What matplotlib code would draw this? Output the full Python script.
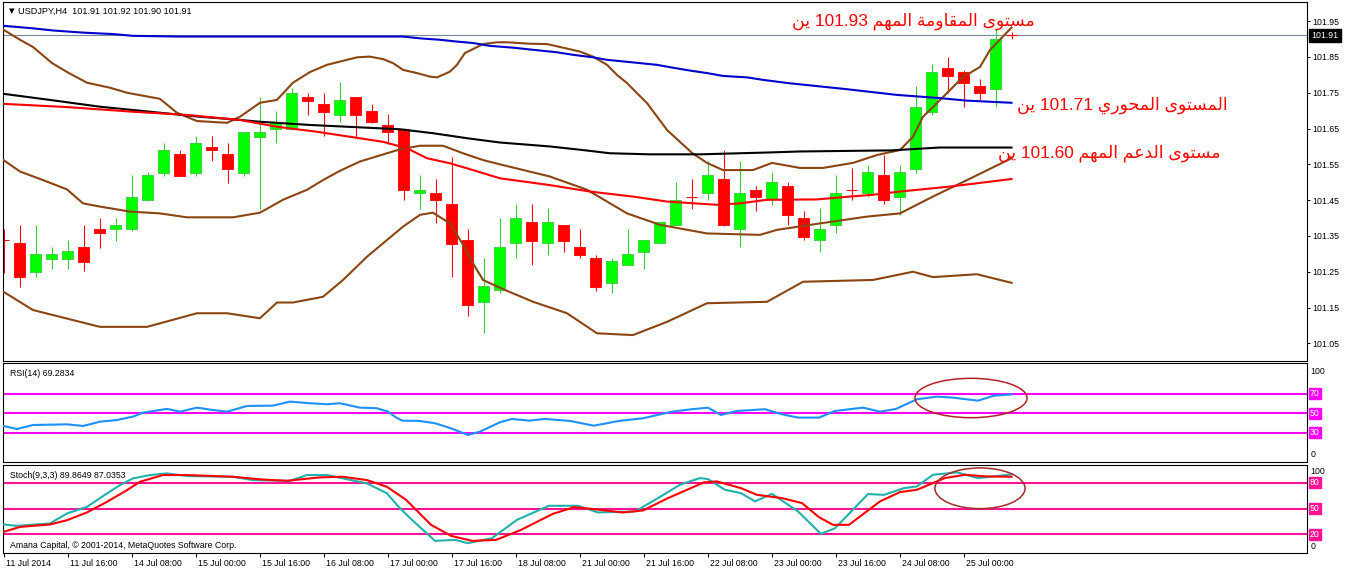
import matplotlib
matplotlib.use('Agg')
import matplotlib.pyplot as plt
from matplotlib.patches import Rectangle, Ellipse
from matplotlib.transforms import blended_transform_factory, ScaledTranslation

# ---------------- data ----------------
symbol_header = "USDJPY,H4  101.91 101.92 101.90 101.91"

opens = [101.339, 101.330, 101.248, 101.286, 101.286, 101.319, 101.369, 101.369, 101.369, 101.449,
         101.527, 101.579, 101.527, 101.599, 101.579, 101.527, 101.627, 101.648, 101.648, 101.739,
         101.719, 101.689, 101.738, 101.699, 101.660, 101.648, 101.469, 101.469, 101.439, 101.339,
         101.166, 101.199, 101.330, 101.389, 101.330, 101.380, 101.319, 101.288, 101.218, 101.268,
         101.306, 101.330, 101.380, 101.458, 101.469, 101.508, 101.369, 101.478, 101.452, 101.490,
         101.400, 101.339, 101.380, 101.478, 101.469, 101.519, 101.458, 101.536, 101.697, 101.819,
         101.808, 101.769, 101.760, 101.910]
highs = [101.369, 101.381, 101.381, 101.320, 101.339, 101.381, 101.401, 101.401, 101.520, 101.529,
         101.611, 101.590, 101.629, 101.629, 101.611, 101.640, 101.739, 101.699, 101.763, 101.750,
         101.749, 101.781, 101.738, 101.719, 101.691, 101.652, 101.520, 101.508, 101.570, 101.369,
         101.288, 101.400, 101.439, 101.439, 101.428, 101.380, 101.369, 101.298, 101.288, 101.369,
         101.339, 101.390, 101.501, 101.508, 101.559, 101.590, 101.559, 101.490, 101.529, 101.501,
         101.419, 101.428, 101.519, 101.539, 101.547, 101.575, 101.547, 101.769, 101.831, 101.849,
         101.814, 101.788, 101.928, 101.920]
lows = [101.247, 101.208, 101.236, 101.259, 101.259, 101.252, 101.317, 101.337, 101.365, 101.448,
        101.518, 101.518, 101.518, 101.558, 101.499, 101.518, 101.426, 101.609, 101.645, 101.688,
        101.629, 101.667, 101.627, 101.665, 101.607, 101.449, 101.426, 101.387, 101.236, 101.126,
        101.078, 101.190, 101.287, 101.268, 101.297, 101.306, 101.287, 101.197, 101.190, 101.268,
        101.259, 101.330, 101.380, 101.426, 101.449, 101.378, 101.318, 101.419, 101.437, 101.380,
        101.339, 101.306, 101.358, 101.450, 101.458, 101.439, 101.408, 101.525, 101.688, 101.749,
        101.710, 101.730, 101.710, 101.900]
closes = [101.339, 101.236, 101.300, 101.300, 101.308, 101.278, 101.357, 101.380, 101.458, 101.519,
          101.590, 101.518, 101.609, 101.589, 101.537, 101.640, 101.640, 101.667, 101.750, 101.728,
          101.697, 101.730, 101.689, 101.667, 101.639, 101.477, 101.478, 101.449, 101.328, 101.158,
          101.210, 101.320, 101.400, 101.337, 101.389, 101.337, 101.298, 101.208, 101.279, 101.300,
          101.339, 101.389, 101.451, 101.458, 101.519, 101.380, 101.469, 101.458, 101.501, 101.408,
          101.348, 101.369, 101.469, 101.478, 101.529, 101.450, 101.529, 101.711, 101.809, 101.797,
          101.778, 101.749, 101.900, 101.910]
last_price = 101.91

# moving averages (bar position, price)
blue_x = [0, 1.84, 3.09, 4.97, 6.84, 8.09, 11.03, 24.97, 26.03, 27.28, 28.34, 29.34, 30.4, 31.84,
          33.1, 34.6, 35.6, 36.84, 37.72, 39.3, 40.84, 41.84, 42.9, 43.97, 44.97, 46.47, 47.47,
          49.03, 52.7, 55.84, 58.53, 60.22, 63]
blue_y = [101.937, 101.930, 101.924, 101.918, 101.914, 101.909, 101.907, 101.907, 101.902, 101.898,
          101.893, 101.889, 101.881, 101.876, 101.870, 101.863, 101.856, 101.849, 101.842, 101.835,
          101.828, 101.820, 101.812, 101.805, 101.797, 101.793, 101.786, 101.777, 101.760, 101.744,
          101.735, 101.728, 101.722]

black_x = [0, 2.9, 6.03, 9.16, 12.28, 14.3, 16.03, 19.16, 24.78, 26.84, 28.97, 31.03, 34.15, 36.2,
           37.9, 40.4, 43.53, 47.7, 49.8, 55.5, 58.5, 63]
black_y = [101.747, 101.730, 101.711, 101.697, 101.683, 101.676, 101.669, 101.660, 101.648, 101.637,
           101.623, 101.611, 101.600, 101.590, 101.581, 101.578, 101.578, 101.583, 101.586, 101.589,
           101.597, 101.597]

red_x = [0, 3.97, 8.09, 11.47, 14.78, 17.09, 19.6, 21.66, 23.72, 25.22, 26.47, 27.9, 29.34, 31.03,
         34.15, 36.66, 39.34, 41.47, 44.6, 46.03, 47.72, 50.84, 52.9, 54.34, 56.03, 59.16, 63]
red_y = [101.719, 101.710, 101.697, 101.688, 101.674, 101.655, 101.641, 101.627, 101.613, 101.595,
         101.567, 101.553, 101.534, 101.511, 101.492, 101.474, 101.460, 101.446, 101.437, 101.441,
         101.451, 101.452, 101.460, 101.465, 101.474, 101.488, 101.509]

# Bollinger bands (bar position, price)
bb_up_x = [0, 1.03, 1.84, 3.03, 3.97, 5.22, 6.66, 7.72, 9.78, 10.84, 12.09, 13.97, 14.78, 16.03,
           17.09, 18.09, 19.16, 20.22, 21.47, 22.1, 22.9, 23.72, 24.34, 24.97, 25.84, 26.66, 27.1,
           27.9, 28.34, 28.84, 29.34, 29.97, 30.84, 31.47, 32.9, 33.97, 34.97, 36.03, 36.84, 37.72,
           38.34, 38.97, 39.59, 40.22, 41.47, 43.03, 43.97, 44.97, 46.84, 48.03, 49.78, 51.22, 53.09,
           54.59, 56.03, 56.84, 57.47, 58.72, 59.97, 61.03, 61.66, 63]
bb_up_y = [101.926, 101.898, 101.878, 101.833, 101.808, 101.778, 101.764, 101.750, 101.733, 101.694,
           101.671, 101.666, 101.683, 101.722, 101.730, 101.778, 101.808, 101.828, 101.842, 101.849,
           101.851, 101.844, 101.833, 101.814, 101.805, 101.795, 101.793, 101.809, 101.828, 101.861,
           101.872, 101.886, 101.891, 101.891, 101.887, 101.886, 101.876, 101.865, 101.851, 101.828,
           101.800, 101.777, 101.749, 101.721, 101.646, 101.582, 101.554, 101.534, 101.534, 101.554,
           101.540, 101.540, 101.554, 101.576, 101.590, 101.627, 101.683, 101.738, 101.794, 101.822,
           101.870, 101.932]

bb_mid_x = [0, 1.03, 2.47, 3.97, 4.97, 6.03, 7.91, 9.78, 11.47, 14.34, 16.03, 17.47, 18.97, 19.97,
            21.03, 22.28, 23.97, 24.78, 26.03, 27.47, 28.72, 29.97, 31.03, 34.15, 36.47, 38.97,
            41.03, 43.97, 47.28, 48.34, 51.03, 53.97, 56.03, 58.09, 60.22, 63]
bb_mid_y = [101.562, 101.530, 101.506, 101.480, 101.441, 101.432, 101.418, 101.413, 101.402, 101.402,
            101.415, 101.451, 101.479, 101.506, 101.532, 101.558, 101.581, 101.592, 101.602, 101.602,
            101.581, 101.562, 101.550, 101.516, 101.479, 101.413, 101.381, 101.357, 101.353, 101.367,
            101.385, 101.404, 101.413, 101.460, 101.506, 101.567]

bb_low_x = [0, 1.84, 6.03, 8.97, 12.09, 13.97, 16.03, 17.09, 18.09, 19.97, 21.22, 22.72, 24.97,
            26.03, 26.84, 27.9, 28.66, 29.34, 29.97, 31.03, 33.1, 35.22, 37.09, 39.34, 41.47, 43.97,
            47.72, 49.97, 54.34, 56.84, 58.09, 60.84, 63]
bb_low_y = [101.194, 101.143, 101.096, 101.096, 101.134, 101.134, 101.120, 101.164, 101.164, 101.180,
            101.227, 101.292, 101.376, 101.409, 101.415, 101.385, 101.330, 101.274, 101.227, 101.205,
            101.166, 101.134, 101.078, 101.073, 101.110, 101.162, 101.166, 101.222, 101.227, 101.250,
            101.235, 101.243, 101.219]

# RSI(14)
rsi_x = [0, 0.84, 1.84, 3.97, 4.97, 6.03, 7.09, 8.09, 8.72, 9.78, 10.22, 11.03, 12.09, 13.09, 13.97,
         15.22, 16.84, 17.91, 19.16, 20.22, 21.03, 22.28, 23.34, 24.03, 24.5, 24.91, 25.97, 26.97,
         27.97, 29.03, 29.78, 31.03, 31.78, 32.84, 33.84, 35.4, 36.9, 38.47, 39.97, 41.78, 43.03,
         44.03, 44.84, 45.84, 47.59, 48.66, 49.66, 50.97, 51.97, 53.72, 54.78, 55.78, 57.09, 58.34,
         59.34, 60.9, 61.91, 63]
rsi_v = [36.9, 33.8, 37.9, 38.6, 36.9, 41.3, 43.0, 46.5, 50.6, 53.3, 54.4, 51.6, 55.7, 53.3, 51.6,
         57.4, 57.8, 61.9, 60.2, 59.2, 60.2, 55.7, 55.1, 51.6, 46.0, 42.4, 42.1, 39.7, 34.5, 27.7,
         31.1, 40.7, 44.1, 42.4, 44.1, 42.1, 37.2, 42.1, 44.8, 51.6, 54.1, 55.7, 48.2, 52.3, 54.1,
         48.9, 45.5, 45.5, 52.3, 55.7, 51.6, 54.4, 64.3, 67.0, 66.0, 62.9, 68.0, 69.28]
rsi_levels = [70, 50, 30]

# Stochastic(9,3,3)
stk_x = [0, 0.84, 2.9, 3.97, 5.22, 6.47, 7.28, 8.09, 9.16, 10.22, 11.47, 14.34, 15.59, 17.91, 18.97,
         20.22, 21.22, 22.72, 23.97, 24.7, 25.41, 26.97, 28.22, 29.03, 30.53, 32.09, 34.09, 35.91,
         37.16, 39.47, 40.72, 42.28, 43.53, 44.03, 45.09, 46.09, 46.97, 48.03, 49.66, 51.09, 51.97,
         54.03, 55.03, 56.28, 57.09, 58.09, 59.59, 60.9, 61.91, 63]
stk_v = [31.6, 30.0, 32.8, 44.4, 52.1, 67.7, 77.3, 85.1, 89.0, 90.9, 87.8, 87.0, 83.1, 82.3, 89.0,
         89.0, 85.1, 79.3, 67.7, 52.0, 39.0, 12.6, 13.7, 9.9, 15.7, 37.0, 53.3, 53.3, 45.6, 46.7,
         60.2, 77.7, 85.5, 84.3, 71.9, 68.0, 58.4, 67.2, 46.7, 20.7, 27.3, 66.9, 66.0, 73.8, 75.8,
         89.3, 92.1, 85.5, 87.4, 89.86]
std_x = [0, 1.03, 2.9, 3.97, 5.22, 6.47, 7.72, 8.53, 9.97, 11.47, 14.34, 16.03, 17.72, 19.78, 21.22,
         22.72, 23.97, 25.16, 26.72, 27.97, 29.28, 30.78, 32.34, 34.34, 35.66, 36.9, 38.72, 39.97,
         41.53, 43.78, 44.59, 46.09, 47.09, 48.66, 49.91, 50.97, 51.84, 52.84, 54.78, 56.03, 57.09,
         58.84, 60.09, 61.41, 63]
std_v = [23.0, 28.8, 31.6, 36.6, 45.6, 57.9, 71.5, 81.2, 89.0, 89.0, 87.0, 84.0, 82.3, 86.3, 87.0,
         83.1, 75.3, 60.2, 31.2, 18.4, 12.6, 13.7, 25.3, 44.0, 51.7, 49.4, 45.6, 47.9, 62.2, 80.5,
         81.6, 73.8, 66.0, 62.2, 56.4, 40.1, 31.2, 31.2, 58.4, 69.2, 71.9, 85.5, 89.3, 87.4, 87.04]
stoch_levels = [80, 50, 20]

# time axis
time_tick_bars = [0, 4, 8, 12, 16, 20, 24, 28, 32, 36, 40, 44, 48, 52, 56, 60]
time_tick_labels = ["11 Jul 2014", "11 Jul 16:00", "14 Jul 08:00", "15 Jul 00:00", "15 Jul 16:00",
                    "16 Jul 08:00", "17 Jul 00:00", "17 Jul 16:00", "18 Jul 08:00", "21 Jul 00:00",
                    "21 Jul 16:00", "22 Jul 08:00", "23 Jul 00:00", "23 Jul 16:00", "24 Jul 08:00",
                    "25 Jul 00:00"]
price_ticks = [101.05, 101.15, 101.25, 101.35, 101.45, 101.55, 101.65, 101.75, 101.85, 101.95]

# annotations (logical Arabic text)
note_resist = "مستوى المقاومة المهم 101.93 ين"
note_pivot = "المستوى المحوري 101.71 ين"
note_support = "مستوى الدعم المهم 101.60 ين"

# ---------------- Arabic shaping (presentation forms + RTL order) ----------------
AR_FORMS = {
    'ا': ('\uFE8D', '\uFE8E', None, None),
    'ل': ('\uFEDD', '\uFEDE', '\uFEDF', '\uFEE0'),
    'م': ('\uFEE1', '\uFEE2', '\uFEE3', '\uFEE4'),
    'س': ('\uFEB1', '\uFEB2', '\uFEB3', '\uFEB4'),
    'ت': ('\uFE95', '\uFE96', '\uFE97', '\uFE98'),
    'و': ('\uFEED', '\uFEEE', None, None),
    'ى': ('\uFEEF', '\uFEF0', None, None),
    'ق': ('\uFED5', '\uFED6', '\uFED7', '\uFED8'),
    'ة': ('\uFE93', '\uFE94', None, None),
    'ه': ('\uFEE9', '\uFEEA', '\uFEEB', '\uFEEC'),
    'ح': ('\uFEA1', '\uFEA2', '\uFEA3', '\uFEA4'),
    'ر': ('\uFEAD', '\uFEAE', None, None),
    'ي': ('\uFEF1', '\uFEF2', '\uFEF3', '\uFEF4'),
    'د': ('\uFEA9', '\uFEAA', None, None),
    'ع': ('\uFEC9', '\uFECA', '\uFECB', '\uFECC'),
    'ن': ('\uFEE5', '\uFEE6', '\uFEE7', '\uFEE8'),
}


def shape_word(w):
    out = []
    n = len(w)
    for i, ch in enumerate(w):
        f = AR_FORMS[ch]
        pj = i > 0 and AR_FORMS[w[i - 1]][2] is not None
        nj = i < n - 1 and f[2] is not None
        if pj and nj:
            g = f[3]
        elif pj:
            g = f[1]
        elif nj:
            g = f[2]
        else:
            g = f[0]
        out.append(g)
    return ''.join(reversed(out))


def visual(text):
    toks = text.split(' ')
    vis = [shape_word(t) if t[0] in AR_FORMS else t for t in toks]
    return ' '.join(reversed(vis))


# ---------------- figure ----------------
W, H = 1346, 571
fig = plt.figure(figsize=(W / 100, H / 100), dpi=100)
fig.patch.set_facecolor('white')
SMALL = ['Liberation Sans', 'DejaVu Sans']
FS = 6.3


def rect(l, t, r, b):
    return [l / W, 1 - b / H, (r - l) / W, (b - t) / H]


ax1 = fig.add_axes(rect(2.7, 2.2, 1306.7, 360.5))
ax2 = fig.add_axes(rect(2.7, 363.3, 1306.7, 461.7))
ax3 = fig.add_axes(rect(2.7, 464.7, 1306.7, 553.0))
XL = (-0.05, 81.45)
for ax in (ax1, ax2, ax3):
    ax.set_xlim(*XL)
    ax.set_facecolor('white')
    for s in ax.spines.values():
        s.set_color('black')
        s.set_linewidth(0.8)
    ax.tick_params(axis='x', bottom=False, labelbottom=False)

# ---- main panel ----
ax1.set_ylim(101.002, 102.003)
ax1.axhline(last_price, color='#778899', lw=0.8, zorder=1)

BULL_FILL, BULL_EDGE = '#00FF00', '#32CD32'
BEAR = '#FF0000'
hw = 0.34
for i, (o, h, l, c) in enumerate(zip(opens, highs, lows, closes)):
    bull = c > o
    wc = BULL_EDGE if bull else BEAR
    ax1.vlines(i, l, h, color=wc, lw=0.8, zorder=2)
    if o == c:
        ax1.hlines(o, i - hw, i + hw, color=wc, lw=0.8, zorder=2)
    else:
        ax1.add_patch(Rectangle((i - hw, min(o, c)), 2 * hw, abs(c - o),
                                facecolor=BULL_FILL if bull else BEAR,
                                edgecolor=wc, lw=0.6, zorder=3))

LW = 1.5
ax1.plot(bb_up_x, bb_up_y, color='#8B4513', lw=LW, zorder=4)
ax1.plot(bb_mid_x, bb_mid_y, color='#8B4513', lw=LW, zorder=4)
ax1.plot(bb_low_x, bb_low_y, color='#8B4513', lw=LW, zorder=4)
ax1.plot(black_x, black_y, color='black', lw=LW, zorder=5)
ax1.plot(red_x, red_y, color='#FF0000', lw=LW, zorder=5)
ax1.plot(blue_x, blue_y, color='#0000CD', lw=LW, zorder=5)

ax1.yaxis.tick_right()
ax1.set_yticks(price_ticks)
ax1.set_yticklabels([f"{p:.2f}" for p in price_ticks])
ax1.tick_params(axis='y', direction='out', length=2.2, width=0.7, pad=1.8, labelsize=FS)
for t in ax1.get_yticklabels():
    t.set_fontfamily(SMALL)

tr1 = blended_transform_factory(ax1.transAxes, ax1.transData)
ax1.text(1.0 + 4.5 / 1304, last_price, f"{last_price:.2f}", transform=tr1, fontsize=FS,
         family=SMALL, color='white', va='center', ha='left',
         bbox=dict(boxstyle='square,pad=0.28', fc='black', ec='black'))

ax1.text(6.5 / 1304, 1 - 8.8 / 358.3, '\u25BC', transform=ax1.transAxes, fontsize=5.2,
         family=['DejaVu Sans'], va='center', ha='left')
ax1.text(15.8 / 1304, 1 - 8.8 / 358.3, symbol_header, transform=ax1.transAxes, fontsize=6.6,
         family=SMALL, va='center', ha='left')

AR_FAM = ['Liberation Sans', 'DejaVu Sans']
AFS = 12.4
ax1.text(64.45, 101.950, visual(note_resist), fontsize=AFS, family=AR_FAM,
         color='#FF0000', ha='right', va='center', zorder=6)
ax1.text(63.35, 101.714, visual(note_pivot), fontsize=AFS, family=AR_FAM,
         color='#FF0000', ha='left', va='center', zorder=6)
ax1.text(62.15, 101.580, visual(note_support), fontsize=AFS, family=AR_FAM,
         color='#FF0000', ha='left', va='center', zorder=6)

# ---- RSI panel ----
ax2.set_ylim(0.26, 101.2)
ax2.set_yticks([])
for lv in rsi_levels:
    ax2.axhline(lv, color='#FF00FF', lw=1.5, zorder=1)
ax2.plot(rsi_x, rsi_v, color='#1E90FF', lw=1.5, zorder=3)
ax2.add_patch(Ellipse((60.47, 65.6), 7.0, 40.4, fill=False, ec='#B22222', lw=1.1, zorder=4))
ax2.text(7.3 / 1304, 1 - 10.5 / 98.4, "RSI(14) 69.2834", transform=ax2.transAxes, fontsize=FS,
         family=SMALL, va='center', ha='left')
tr2 = blended_transform_factory(ax2.transAxes, ax2.transData)
ax2.text(1.0 + 4 / 1304, 92.6, "100", transform=tr2, fontsize=FS, family=SMALL, va='center')
ax2.text(1.0 + 4 / 1304, 7.2, "0", transform=tr2, fontsize=FS, family=SMALL, va='center')
for lv in rsi_levels:
    ax2.text(1.0 + 3 / 1304, lv, f"{lv}", transform=tr2, fontsize=FS, family=SMALL, va='center',
             color='white', bbox=dict(boxstyle='square,pad=0.12', fc='#FF00FF', ec='#FF00FF'))

# ---- Stochastic panel ----
ax3.set_ylim(-1.5, 101.0)
ax3.set_yticks([])
for lv in stoch_levels:
    ax3.axhline(lv, color='#FF1493', lw=1.5, zorder=1)
ax3.plot(stk_x, stk_v, color='#20B2AA', lw=1.5, zorder=3)
ax3.plot(std_x, std_v, color='#FF0000', lw=1.5, zorder=4)
ax3.add_patch(Ellipse((61.03, 73.6), 5.63, 47.3, fill=False, ec='#A52A2A', lw=1.1, zorder=5))
ax3.text(7.3 / 1304, 1 - 10.3 / 88.3, "Stoch(9,3,3) 89.8649 87.0353", transform=ax3.transAxes,
         fontsize=FS, family=SMALL, va='center', ha='left')
ax3.text(7.3 / 1304, 7.0 / 88.3, "Amana Capital, \u00A9 2001-2014, MetaQuotes Software Corp.",
         transform=ax3.transAxes, fontsize=FS, family=SMALL, va='center', ha='left')
tr3 = blended_transform_factory(ax3.transAxes, ax3.transData)
ax3.text(1.0 + 4 / 1304, 93.1, "100", transform=tr3, fontsize=FS, family=SMALL, va='center')
ax3.text(1.0 + 4 / 1304, 6.6, "0", transform=tr3, fontsize=FS, family=SMALL, va='center')
for lv in stoch_levels:
    ax3.text(1.0 + 3 / 1304, lv, f"{lv}", transform=tr3, fontsize=FS, family=SMALL, va='center',
             color='white', bbox=dict(boxstyle='square,pad=0.12', fc='#FF1493', ec='#FF1493'))

ax3.tick_params(axis='x', bottom=True, labelbottom=True, direction='out', length=3.0,
                width=0.7, pad=1.2, labelsize=FS)
ax3.set_xticks(time_tick_bars)
ax3.set_xticklabels(time_tick_labels)
off = ScaledTranslation(2.5 / 100, 0, fig.dpi_scale_trans)
for t in ax3.get_xticklabels():
    t.set_ha('left')
    t.set_fontfamily(SMALL)
    t.set_transform(t.get_transform() + off)

fig.savefig('out.png', dpi=100, facecolor='white')
